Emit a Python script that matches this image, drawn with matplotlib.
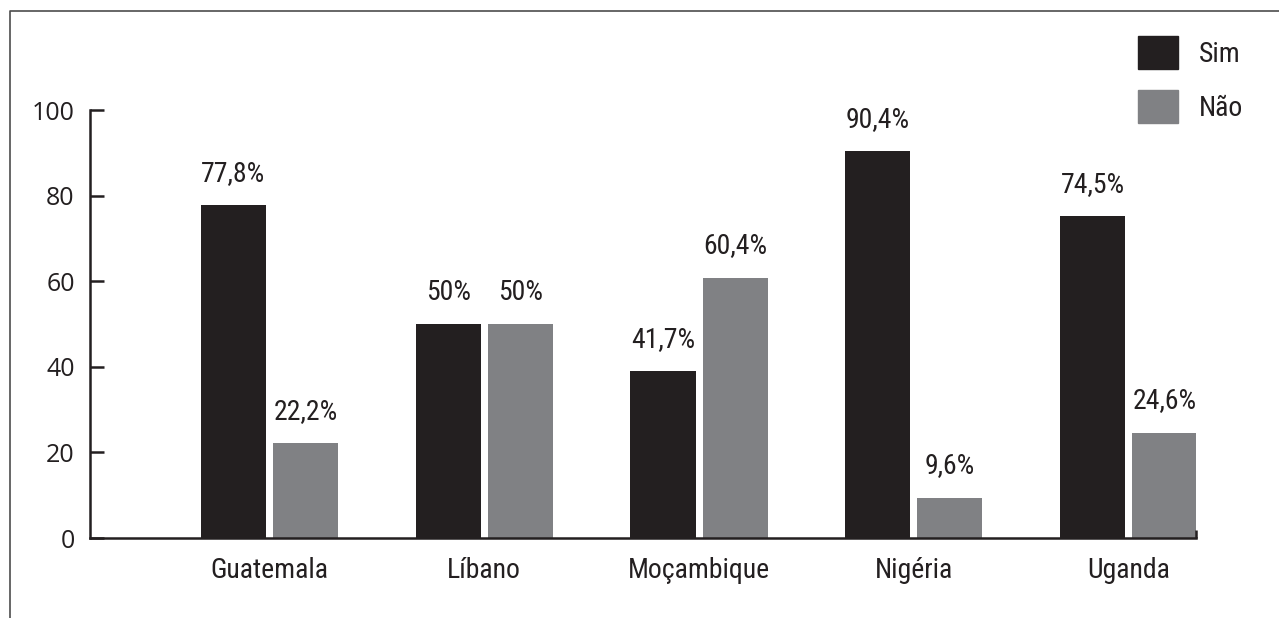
import matplotlib
matplotlib.use("Agg")
from matplotlib import pyplot as plt
from matplotlib import font_manager
from matplotlib.lines import Line2D
from matplotlib.patches import Patch
import numpy as np

# dados
paises = ["Guatemala", "Líbano", "Moçambique", "Nigéria", "Uganda"]
sim = [77.8, 50, 39, 90.4, 75.2]
nao = [22.2, 50, 60.8, 9.4, 24.6]
sim_rotulos = ["77,8%", "50%", "41,7%", "90,4%", "74,5%"]
nao_rotulos = ["22,2%", "50%", "60,4%", "9,6%", "24,6%"]
y_ticks = [0, 20, 40, 60, 80, 100]

cor_sim = "#231f20"
cor_nao = "#808184"
cor_texto = "#231f20"

# fonte condensada, se houver
instaladas = {f.name for f in font_manager.fontManager.ttflist}
fonte, tam = ["Roboto", "DejaVu Sans"], 19
for nome in ["Roboto Condensed", "Liberation Sans Narrow", "Open Sans Condensed",
             "Noto Sans Condensed", "DejaVu Sans Condensed"]:
    if nome in instaladas:
        fonte, tam = [nome, "DejaVu Sans"], 20
        break

W, H = 1279, 618
fig = plt.figure(figsize=(W / 100, H / 100), dpi=100)
ax = fig.add_axes([90 / W, 1 - 538 / H, (1196 - 90) / W, (538 - 110) / H])

x = np.arange(len(paises))
larg = 0.303
off = 0.168
b1 = ax.bar(x - off, sim, larg, color=cor_sim, label="Sim")
b2 = ax.bar(x + off, nao, larg, color=cor_nao, label="Não")

for barras, rot in ((b1, sim_rotulos), (b2, nao_rotulos)):
    for b, t in zip(barras, rot):
        ax.annotate(t, (b.get_x() + b.get_width() / 2, b.get_height()),
                    xytext=(0, 23), textcoords="offset points",
                    ha="center", va="center", fontsize=tam,
                    family=fonte, color=cor_texto)

ax.set_xlim(-0.836, 4.314)
ax.set_ylim(0, 100)

for s in ["top", "right"]:
    ax.spines[s].set_visible(False)
for s in ["left", "bottom"]:
    ax.spines[s].set_linewidth(1.8)
    ax.spines[s].set_color(cor_texto)

ax.set_yticks(y_ticks)
ax.set_yticklabels([str(v) for v in y_ticks], family=["Open Sans", "DejaVu Sans"],
                   fontsize=18, color=cor_texto)
ax.tick_params(axis="y", direction="in", length=10, width=1.8,
               color=cor_texto, pad=11)

ax.set_xticks(x)
ax.set_xticklabels(paises, family=fonte, fontsize=tam, color=cor_texto)
ax.tick_params(axis="x", length=0, pad=14)
ax.set_xticks([4.314], minor=True)
ax.tick_params(axis="x", which="minor", direction="in", length=6,
               width=1.8, color=cor_texto)

# legenda
leg = fig.legend(handles=[Patch(color=cor_sim, label="Sim"),
                          Patch(color=cor_nao, label="Não")],
                 loc="upper left", bbox_to_anchor=(1138 / W, 1 - 36 / H),
                 frameon=False, borderpad=0, borderaxespad=0,
                 handlelength=1.45, handleheight=1.45, labelspacing=0.75,
                 handletextpad=0.75, prop={"family": fonte, "size": tam})
for t in leg.get_texts():
    t.set_color(cor_texto)

# moldura (linhas superior e esquerda)
fig.add_artist(Line2D([9.5 / W, 9.5 / W, 1], [0, 1 - 10.5 / H, 1 - 10.5 / H],
                      transform=fig.transFigure, color="#4d4d4d", lw=1.2))

fig.savefig("out.png", dpi=100)
